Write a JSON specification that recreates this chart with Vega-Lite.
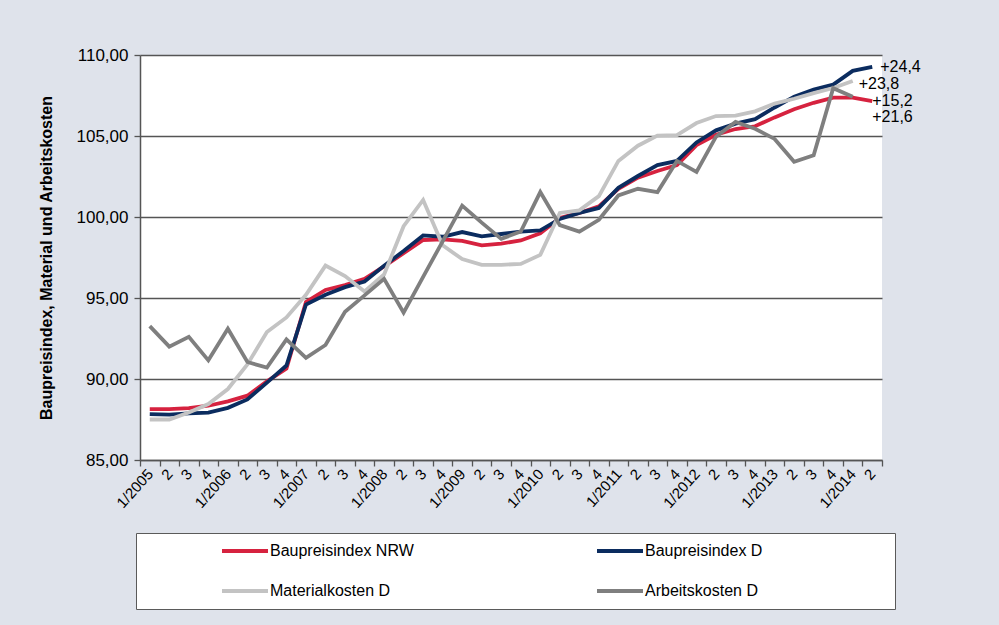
{
  "$schema": "https://vega.github.io/schema/vega-lite/v6.json",
  "width": 742,
  "height": 405,
  "autosize": {"type": "none"},
  "padding": {"left": 140, "top": 55, "right": 117, "bottom": 165},
  "background": "#dfe3eb",
  "config": {
    "view": {"fill": "white", "stroke": null},
    "font": "Liberation Sans"
  },
  "datasets": {
    "d": [
      {"q":"1/2005","s":"Baupreisindex NRW","v":88.14},{"q":"2/2005","s":"Baupreisindex NRW","v":88.14},{"q":"3/2005","s":"Baupreisindex NRW","v":88.2},{"q":"4/2005","s":"Baupreisindex NRW","v":88.35},
      {"q":"1/2006","s":"Baupreisindex NRW","v":88.62},{"q":"2/2006","s":"Baupreisindex NRW","v":88.97},{"q":"3/2006","s":"Baupreisindex NRW","v":89.85},{"q":"4/2006","s":"Baupreisindex NRW","v":90.65},
      {"q":"1/2007","s":"Baupreisindex NRW","v":94.75},{"q":"2/2007","s":"Baupreisindex NRW","v":95.5},{"q":"3/2007","s":"Baupreisindex NRW","v":95.8},{"q":"4/2007","s":"Baupreisindex NRW","v":96.18},
      {"q":"1/2008","s":"Baupreisindex NRW","v":96.95},{"q":"2/2008","s":"Baupreisindex NRW","v":97.76},{"q":"3/2008","s":"Baupreisindex NRW","v":98.58},{"q":"4/2008","s":"Baupreisindex NRW","v":98.62},
      {"q":"1/2009","s":"Baupreisindex NRW","v":98.52},{"q":"2/2009","s":"Baupreisindex NRW","v":98.25},{"q":"3/2009","s":"Baupreisindex NRW","v":98.36},{"q":"4/2009","s":"Baupreisindex NRW","v":98.55},
      {"q":"1/2010","s":"Baupreisindex NRW","v":99.0},{"q":"2/2010","s":"Baupreisindex NRW","v":99.94},{"q":"3/2010","s":"Baupreisindex NRW","v":100.25},{"q":"4/2010","s":"Baupreisindex NRW","v":100.66},
      {"q":"1/2011","s":"Baupreisindex NRW","v":101.74},{"q":"2/2011","s":"Baupreisindex NRW","v":102.43},{"q":"3/2011","s":"Baupreisindex NRW","v":102.84},{"q":"4/2011","s":"Baupreisindex NRW","v":103.2},
      {"q":"1/2012","s":"Baupreisindex NRW","v":104.44},{"q":"2/2012","s":"Baupreisindex NRW","v":105.08},{"q":"3/2012","s":"Baupreisindex NRW","v":105.43},{"q":"4/2012","s":"Baupreisindex NRW","v":105.6},
      {"q":"1/2013","s":"Baupreisindex NRW","v":106.15},{"q":"2/2013","s":"Baupreisindex NRW","v":106.65},{"q":"3/2013","s":"Baupreisindex NRW","v":107.05},{"q":"4/2013","s":"Baupreisindex NRW","v":107.37},
      {"q":"1/2014","s":"Baupreisindex NRW","v":107.37},{"q":"2/2014","s":"Baupreisindex NRW","v":107.15},

      {"q":"1/2005","s":"Baupreisindex D","v":87.83},{"q":"2/2005","s":"Baupreisindex D","v":87.8},{"q":"3/2005","s":"Baupreisindex D","v":87.88},{"q":"4/2005","s":"Baupreisindex D","v":87.93},
      {"q":"1/2006","s":"Baupreisindex D","v":88.22},{"q":"2/2006","s":"Baupreisindex D","v":88.74},{"q":"3/2006","s":"Baupreisindex D","v":89.78},{"q":"4/2006","s":"Baupreisindex D","v":90.83},
      {"q":"1/2007","s":"Baupreisindex D","v":94.6},{"q":"2/2007","s":"Baupreisindex D","v":95.2},{"q":"3/2007","s":"Baupreisindex D","v":95.67},{"q":"4/2007","s":"Baupreisindex D","v":96.02},
      {"q":"1/2008","s":"Baupreisindex D","v":96.99},{"q":"2/2008","s":"Baupreisindex D","v":97.9},{"q":"3/2008","s":"Baupreisindex D","v":98.86},{"q":"4/2008","s":"Baupreisindex D","v":98.78},
      {"q":"1/2009","s":"Baupreisindex D","v":99.07},{"q":"2/2009","s":"Baupreisindex D","v":98.8},{"q":"3/2009","s":"Baupreisindex D","v":98.95},{"q":"4/2009","s":"Baupreisindex D","v":99.1},
      {"q":"1/2010","s":"Baupreisindex D","v":99.17},{"q":"2/2010","s":"Baupreisindex D","v":99.88},{"q":"3/2010","s":"Baupreisindex D","v":100.25},{"q":"4/2010","s":"Baupreisindex D","v":100.56},
      {"q":"1/2011","s":"Baupreisindex D","v":101.8},{"q":"2/2011","s":"Baupreisindex D","v":102.53},{"q":"3/2011","s":"Baupreisindex D","v":103.2},{"q":"4/2011","s":"Baupreisindex D","v":103.46},
      {"q":"1/2012","s":"Baupreisindex D","v":104.6},{"q":"2/2012","s":"Baupreisindex D","v":105.35},{"q":"3/2012","s":"Baupreisindex D","v":105.76},{"q":"4/2012","s":"Baupreisindex D","v":106.04},
      {"q":"1/2013","s":"Baupreisindex D","v":106.76},{"q":"2/2013","s":"Baupreisindex D","v":107.43},{"q":"3/2013","s":"Baupreisindex D","v":107.86},{"q":"4/2013","s":"Baupreisindex D","v":108.17},
      {"q":"1/2014","s":"Baupreisindex D","v":109.02},{"q":"2/2014","s":"Baupreisindex D","v":109.27},

      {"q":"1/2005","s":"Materialkosten D","v":87.5},{"q":"2/2005","s":"Materialkosten D","v":87.5},{"q":"3/2005","s":"Materialkosten D","v":87.93},{"q":"4/2005","s":"Materialkosten D","v":88.45},
      {"q":"1/2006","s":"Materialkosten D","v":89.38},{"q":"2/2006","s":"Materialkosten D","v":90.9},{"q":"3/2006","s":"Materialkosten D","v":92.9},{"q":"4/2006","s":"Materialkosten D","v":93.8},
      {"q":"1/2007","s":"Materialkosten D","v":95.2},{"q":"2/2007","s":"Materialkosten D","v":97.0},{"q":"3/2007","s":"Materialkosten D","v":96.35},{"q":"4/2007","s":"Materialkosten D","v":95.4},
      {"q":"1/2008","s":"Materialkosten D","v":96.45},{"q":"2/2008","s":"Materialkosten D","v":99.43},{"q":"3/2008","s":"Materialkosten D","v":101.05},{"q":"4/2008","s":"Materialkosten D","v":98.25},
      {"q":"1/2009","s":"Materialkosten D","v":97.4},{"q":"2/2009","s":"Materialkosten D","v":97.05},{"q":"3/2009","s":"Materialkosten D","v":97.05},{"q":"4/2009","s":"Materialkosten D","v":97.1},
      {"q":"1/2010","s":"Materialkosten D","v":97.66},{"q":"2/2010","s":"Materialkosten D","v":100.25},{"q":"3/2010","s":"Materialkosten D","v":100.41},{"q":"4/2010","s":"Materialkosten D","v":101.29},
      {"q":"1/2011","s":"Materialkosten D","v":103.46},{"q":"2/2011","s":"Materialkosten D","v":104.4},{"q":"3/2011","s":"Materialkosten D","v":105.02},{"q":"4/2011","s":"Materialkosten D","v":105.06},
      {"q":"1/2012","s":"Materialkosten D","v":105.8},{"q":"2/2012","s":"Materialkosten D","v":106.23},{"q":"3/2012","s":"Materialkosten D","v":106.26},{"q":"4/2012","s":"Materialkosten D","v":106.52},
      {"q":"1/2013","s":"Materialkosten D","v":107.0},{"q":"2/2013","s":"Materialkosten D","v":107.3},{"q":"3/2013","s":"Materialkosten D","v":107.65},{"q":"4/2013","s":"Materialkosten D","v":107.96},
      {"q":"1/2014","s":"Materialkosten D","v":108.4},

      {"q":"1/2005","s":"Arbeitskosten D","v":93.26},{"q":"2/2005","s":"Arbeitskosten D","v":92.0},{"q":"3/2005","s":"Arbeitskosten D","v":92.6},{"q":"4/2005","s":"Arbeitskosten D","v":91.15},
      {"q":"1/2006","s":"Arbeitskosten D","v":93.1},{"q":"2/2006","s":"Arbeitskosten D","v":91.05},{"q":"3/2006","s":"Arbeitskosten D","v":90.7},{"q":"4/2006","s":"Arbeitskosten D","v":92.45},
      {"q":"1/2007","s":"Arbeitskosten D","v":91.3},{"q":"2/2007","s":"Arbeitskosten D","v":92.1},{"q":"3/2007","s":"Arbeitskosten D","v":94.15},{"q":"4/2007","s":"Arbeitskosten D","v":95.16},
      {"q":"1/2008","s":"Arbeitskosten D","v":96.18},{"q":"2/2008","s":"Arbeitskosten D","v":94.1},{"q":"3/2008","s":"Arbeitskosten D","v":96.3},{"q":"4/2008","s":"Arbeitskosten D","v":98.5},
      {"q":"1/2009","s":"Arbeitskosten D","v":100.7},{"q":"2/2009","s":"Arbeitskosten D","v":99.65},{"q":"3/2009","s":"Arbeitskosten D","v":98.65},{"q":"4/2009","s":"Arbeitskosten D","v":99.1},
      {"q":"1/2010","s":"Arbeitskosten D","v":101.54},{"q":"2/2010","s":"Arbeitskosten D","v":99.5},{"q":"3/2010","s":"Arbeitskosten D","v":99.1},{"q":"4/2010","s":"Arbeitskosten D","v":99.83},
      {"q":"1/2011","s":"Arbeitskosten D","v":101.33},{"q":"2/2011","s":"Arbeitskosten D","v":101.74},{"q":"3/2011","s":"Arbeitskosten D","v":101.54},{"q":"4/2011","s":"Arbeitskosten D","v":103.46},
      {"q":"1/2012","s":"Arbeitskosten D","v":102.78},{"q":"2/2012","s":"Arbeitskosten D","v":104.96},{"q":"3/2012","s":"Arbeitskosten D","v":105.87},{"q":"4/2012","s":"Arbeitskosten D","v":105.45},
      {"q":"1/2013","s":"Arbeitskosten D","v":104.82},{"q":"2/2013","s":"Arbeitskosten D","v":103.41},{"q":"3/2013","s":"Arbeitskosten D","v":103.81},{"q":"4/2013","s":"Arbeitskosten D","v":107.95},
      {"q":"1/2014","s":"Arbeitskosten D","v":107.42}
    ]
  },
  "layer": [
    {
      "data": {"name": "d"},
      "mark": {"type": "line", "strokeWidth": 3.8},
      "encoding": {
        "x": {
          "field": "q", "type": "ordinal", "sort": null,
          "scale": {"type": "band", "paddingInner": 0, "paddingOuter": 0},
          "axis": {
            "title": null,
            "tickBand": "extent",
            "grid": false,
            "labelAngle": -48,
            "labelAlign": "right",
            "labelBaseline": "middle",
            "labelExpr": "!datum.value ? '' : (split(datum.value, '/')[0] == '1' ? datum.value : split(datum.value, '/')[0])",
            "labelFontSize": 15,
            "labelColor": "#000000",
            "labelPadding": 5,
            "labelOverlap": false,
            "tickColor": "#555555",
            "tickSize": 6,
            "tickWidth": 1.3,
            "domainColor": "#555555",
            "domainWidth": 1.5
          }
        },
        "y": {
          "field": "v", "type": "quantitative",
          "scale": {"domain": [85, 110], "nice": false, "zero": false},
          "axis": {
            "title": "Baupreisindex, Material und Arbeitskosten",
            "titleFontSize": 16,
            "titleFontWeight": "bold",
            "titleColor": "#000000",
            "titlePadding": 22,
            "values": [85, 90, 95, 100, 105, 110],
            "labelExpr": "replace(format(datum.value, '.2f'), '.', ',')",
            "labelFontSize": 17,
            "labelColor": "#000000",
            "labelPadding": 6,
            "tickColor": "#555555",
            "tickSize": 6,
            "tickWidth": 1.3,
            "domainColor": "#555555",
            "domainWidth": 1.5,
            "gridColor": "#555555",
            "gridWidth": 1.4
          }
        },
        "color": {
          "field": "s", "type": "nominal",
          "scale": {
            "domain": ["Baupreisindex NRW", "Baupreisindex D", "Materialkosten D", "Arbeitskosten D"],
            "range": ["#d6223f", "#0b2c5f", "#c3c3c3", "#7f7f7f"]
          },
          "legend": {
            "orient": "none",
            "legendX": -4,
            "legendY": 478,
            "columns": 2,
            "direction": "horizontal",
            "title": "\u00a0",
            "titleOrient": "right",
            "titlePadding": 123,
            "titleFontSize": 10,
            "symbolType": "M-4.6,0H4.6",
            "symbolSize": 100,
            "symbolStrokeWidth": 4,
            "symbolOffset": 91,
            "labelOffset": 17,
            "labelFontSize": 16,
            "labelColor": "#000000",
            "labelLimit": 300,
            "padding": 10,
            "rowPadding": 24,
            "columnPadding": 107,
            "fillColor": "white",
            "strokeColor": "#5a5a5a"
          }
        }
      }
    },
    {
      "data": {"values": [{"q": "2/2014", "v": 109.26, "t": "+24,4"}]},
      "mark": {"type": "text", "align": "left", "baseline": "middle", "dx": 8, "fontSize": 16, "color": "#000000"},
      "encoding": {
        "x": {"field": "q", "type": "ordinal", "sort": null},
        "y": {"field": "v", "type": "quantitative"},
        "text": {"field": "t"}
      }
    },
    {
      "data": {"values": [{"q": "1/2014", "v": 108.2, "t": "+23,8"}]},
      "mark": {"type": "text", "align": "left", "baseline": "middle", "dx": 6, "fontSize": 16, "color": "#000000"},
      "encoding": {
        "x": {"field": "q", "type": "ordinal", "sort": null},
        "y": {"field": "v", "type": "quantitative"},
        "text": {"field": "t"}
      }
    },
    {
      "data": {"values": [{"q": "2/2014", "v": 107.16, "t": "+15,2"}, {"q": "2/2014", "v": 106.17, "t": "+21,6"}]},
      "mark": {"type": "text", "align": "left", "baseline": "middle", "dx": 0, "fontSize": 16, "color": "#000000"},
      "encoding": {
        "x": {"field": "q", "type": "ordinal", "sort": null},
        "y": {"field": "v", "type": "quantitative"},
        "text": {"field": "t"}
      }
    }
  ]
}
